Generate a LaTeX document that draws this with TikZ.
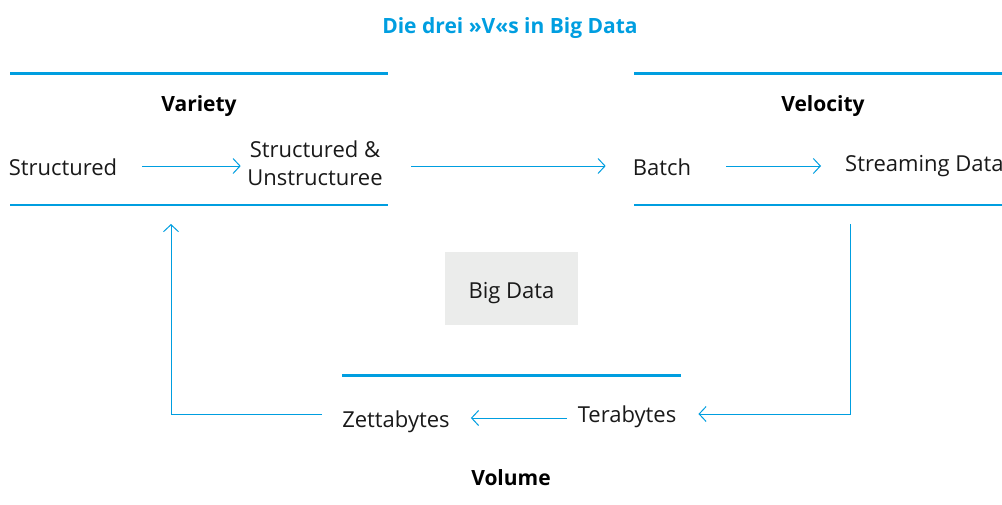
\documentclass[tikz,border=0pt]{standalone}
\usepackage{fontspec}
\setmainfont{Open Sans}
\usetikzlibrary{arrows.meta}
\definecolor{vblue}{RGB}{0,158,224}
\definecolor{vgray}{RGB}{235,236,235}
\tikzset{
  x=1pt,y=-1pt,
  lbl/.style={anchor=base,inner sep=0pt,font=\fontsize{22}{26}\selectfont,text=black!90},
  hdr/.style={anchor=base,inner sep=0pt,font=\fontsize{21}{25}\selectfont\bfseries},
  thick line/.style={draw=vblue,line width=3pt},
  thin line/.style={draw=vblue,line width=1.2pt},
  arr/.style={draw=vblue,line width=1pt,-{Straight Barb[length=7pt,width=15pt,line width=1pt]}},
}
\begin{document}
\begin{tikzpicture}
\useasboundingbox (0,0) rectangle (1002,504);
\clip (0,0) rectangle (1002,504);
% title
\node[hdr,text=vblue] (title) at (510,33) {Die drei »V«s in Big Data};
% Variety block
\coordinate (vaTL) at (10,73); \coordinate (vaTR) at (388,73);
\coordinate (vaBL) at (10,205); \coordinate (vaBR) at (388,205);
\draw[thick line] (vaTL) -- (vaTR);
\draw[thin line] (vaBL) -- (vaBR);
\node[hdr] (variety) at (199,111) {Variety};
\node[lbl] (struct) at (63,175) {Structured};
\node[lbl] (su1) at (315,157) {Structured \&};
\node[lbl] (su2) at (315,185) {Unstructuree};
% Velocity block
\coordinate (veTL) at (634,73); \coordinate (veTR) at (1004,73);
\coordinate (veBL) at (634,205); \coordinate (veBR) at (1004,205);
\draw[thick line] (veTL) -- (veTR);
\draw[thin line] (veBL) -- (veBR);
\node[hdr] (velocity) at (823,111) {Velocity};
\node[lbl] (batch) at (662,175) {Batch};
\node[lbl,anchor=base west] (stream) at (845,171) {Streaming Data};
% Big Data
\node[fill=vgray,minimum width=133pt,minimum height=73pt,inner sep=0pt,text height=19pt,text depth=0pt,font=\fontsize{22}{26}\selectfont,text=black!90] (bd) at (511.5,288.5) {Big Data};
% Volume block
\coordinate (voTL) at (342,375); \coordinate (voTR) at (681,375);
\draw[thick line] (voTL) -- (voTR);
\node[lbl] (tera) at (627,422) {Terabytes};
\node[lbl] (zetta) at (396,427) {Zettabytes};
\node[hdr] (volume) at (511,485) {Volume};
% arrows
\coordinate (ya) at (0,166);
\coordinate (yb) at (0,414);
\coordinate (yc) at (0,418);
\draw[arr] ([xshift=25pt]struct.east |- ya) -- ([xshift=-9pt]su1.west |- ya);
\draw[arr] ([xshift=31pt]su1.east |- ya) -- ([xshift=-27pt]batch.west |- ya);
\draw[arr] ([xshift=35pt]batch.east |- ya) -- ([xshift=-24pt]stream.west |- ya);
\coordinate (rtop) at (850,224);
\coordinate (ltop) at (171,224);
\draw[arr] (rtop) -- (rtop |- yb) -- ([xshift=22pt]tera.east |- yb);
\draw[arr] ([xshift=-11pt]tera.west |- yc) -- ([xshift=21pt]zetta.east |- yc);
\draw[arr] ([xshift=-20pt]zetta.west |- yb) -- (ltop |- yb) -- (ltop);
\end{tikzpicture}
\end{document}
